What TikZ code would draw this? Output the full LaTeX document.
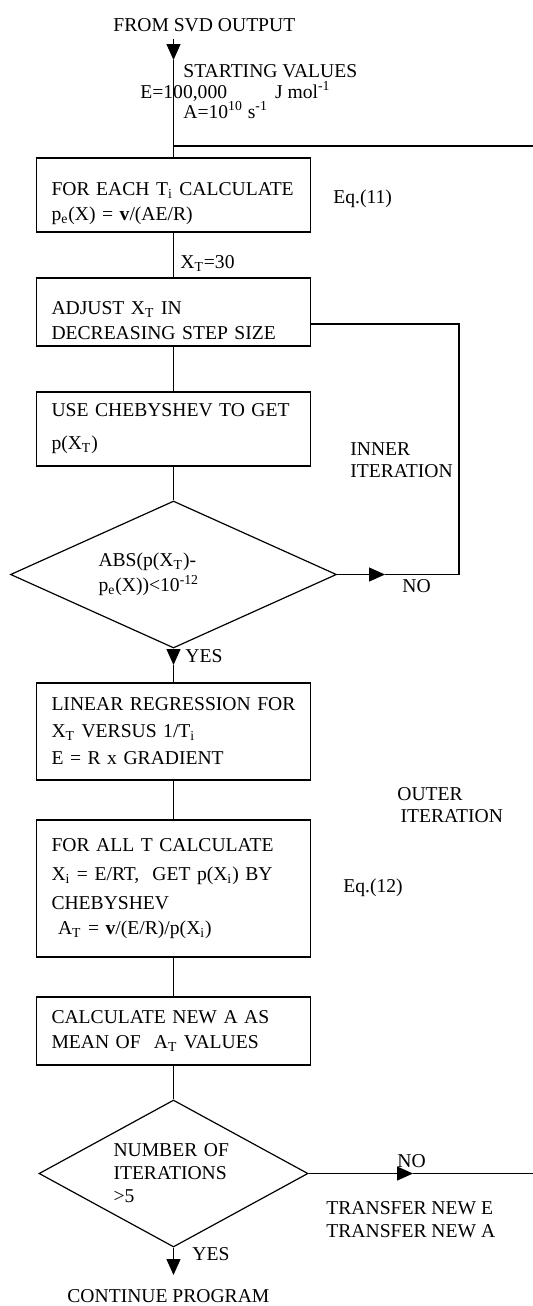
\documentclass[tikz,border=0pt]{standalone}
\usepackage{fontspec}
\setmainfont{Liberation Serif}
\usetikzlibrary{shapes.geometric,arrows.meta}

\begin{document}
\begin{tikzpicture}[
        x=0.5pt, y=-0.5pt,
        every node/.style={font=\fontsize{9.8}{12.5}\selectfont},
        proc/.style={rectangle, draw=black, line width=0.6pt, minimum width=137pt, text width=122pt, inner xsep=7.5pt, inner ysep=0pt, align=left},
        decide/.style={diamond, draw=black, line width=0.6pt, minimum height=73.5pt, inner sep=0pt, align=left},
        note/.style={anchor=base west, inner sep=0pt, align=left},
        flow/.style={line width=0.6pt},
        tip/.style={line width=0.6pt, -{Triangle[width=7pt,length=8pt]}}
    ]

    \useasboundingbox (0,0) rectangle (532,1306);

    % Main column of steps
    \node[proc, minimum height=37pt] (each) at (173.5,195) {\rule{0pt}{15pt}FOR EACH T\textsubscript{i} CALCULATE\\p\textsubscript{e}(X) = \textbf{v}/(AE/R)};
    \node[proc, minimum height=34pt] (adjust) at (173.5,312) {\rule{0pt}{15pt}ADJUST X\textsubscript{T} IN\\DECREASING STEP SIZE};
    \node[proc, minimum height=37pt] (cheby) at (173.5,429) {USE CHEBYSHEV TO GET\\[4pt]p(X\textsubscript{T})};
    \node[decide, aspect=2.22, minimum width=163pt, text width=75pt] (test) at (173.5,574.5) {ABS(p(X\textsubscript{T})-\\p\textsubscript{e}(X))<10\textsuperscript{-12}};
    \node[proc, minimum height=48.5pt] (regress) at (173.5,731.5) {LINEAR REGRESSION FOR\\[1pt]X\textsubscript{T} VERSUS 1/T\textsubscript{i}\\[1pt]E = R x GRADIENT};
    \node[proc, minimum height=68.5pt] (allT) at (173.5,888.5) {FOR ALL T CALCULATE\\[2pt]X\textsubscript{i} = E/RT,\ \ GET p(X\textsubscript{i}) BY\\[2pt]CHEBYSHEV\\\ A\textsubscript{T} = \textbf{v}/(E/R)/p(X\textsubscript{i})};
    \node[proc, minimum height=34pt] (meanA) at (173.5,1031) {CALCULATE NEW A AS\\MEAN OF\ \ A\textsubscript{T} VALUES};
    \node[decide, aspect=1.83, minimum width=134.5pt, text width=60pt, font=\fontsize{9.8}{11.5}\selectfont] (count) at (173.5,1173.5) {NUMBER OF\\ITERATIONS\\>5};

    % Texts beside the flow
    \node[note] (src) at (113,32) {FROM SVD OUTPUT};
    \node[note] (start) at (183,77) {STARTING VALUES};
    \node[note] (eStart) at (140,98) {E=100,000\hspace{24pt}J mol\textsuperscript{-1}};
    \node[note] (aStart) at (183,118) {A=10\textsuperscript{10} s\textsuperscript{-1}};
    \node[note] (eq11) at (333,203) {Eq.(11)};
    \node[note] (xStart) at (180,268) {X\textsubscript{T}=30};
    \node[note, font=\fontsize{9.8}{11}\selectfont] (innerLbl) at (350,477) {INNER\\ITERATION};
    \node[note] (no1) at (402,592) {NO};
    \node[note] (yes1) at (185,662) {YES};
    \node[note, font=\fontsize{9.8}{11}\selectfont] (outerLbl) at (397,822) {OUTER\\\,ITERATION};
    \node[note] (eq12) at (343,892) {Eq.(12)};
    \node[note] (no2) at (397,1167) {NO};
    \node[note, font=\fontsize{9.8}{11.5}\selectfont] (transfer) at (326,1237) {TRANSFER NEW E\\TRANSFER NEW A};
    \node[note] (yes2) at (192,1260) {YES};
    \node[note] (stop) at (67,1302) {CONTINUE PROGRAM};

    % Points where lines turn or arrows end
    \coordinate (srcTip) at (173.5,60);
    \coordinate (loopIn) at (173.5,146);
    \coordinate (outerTop) at (534,146);
    \coordinate (noTip1) at (385,574.5);
    \coordinate (innerTop) at (459,324);
    \coordinate (yesTip) at (173.5,665);
    \coordinate (noTip2) at (413,1173.5);
    \coordinate (endTip) at (173.5,1275);

    % Straight links
    \draw[tip] ([yshift=-3pt]src.south -| each.north) -- (srcTip);
    \draw[flow] (srcTip) -- (each.north);
    \draw[flow] (each) -- (adjust);
    \draw[flow] (adjust) -- (cheby);
    \draw[flow] (cheby) -- (test);
    \draw[tip] (test.south) -- (yesTip);
    \draw[flow] (yesTip) -- (regress.north);
    \draw[flow] (regress) -- (allT);
    \draw[flow] (allT) -- (meanA);
    \draw[flow] (meanA) -- (count);
    \draw[tip] (count.south) -- (endTip);

    % Inner iteration
    \draw[tip] (test.east) -- (noTip1);
    \draw[flow] (noTip1) -| (innerTop) -- (innerTop -| adjust.east);

    % Outer iteration
    \draw[tip] (count.east) -- (noTip2);
    \draw[flow] (noTip2) -| (outerTop) -- (loopIn);

\end{tikzpicture}
\end{document}
